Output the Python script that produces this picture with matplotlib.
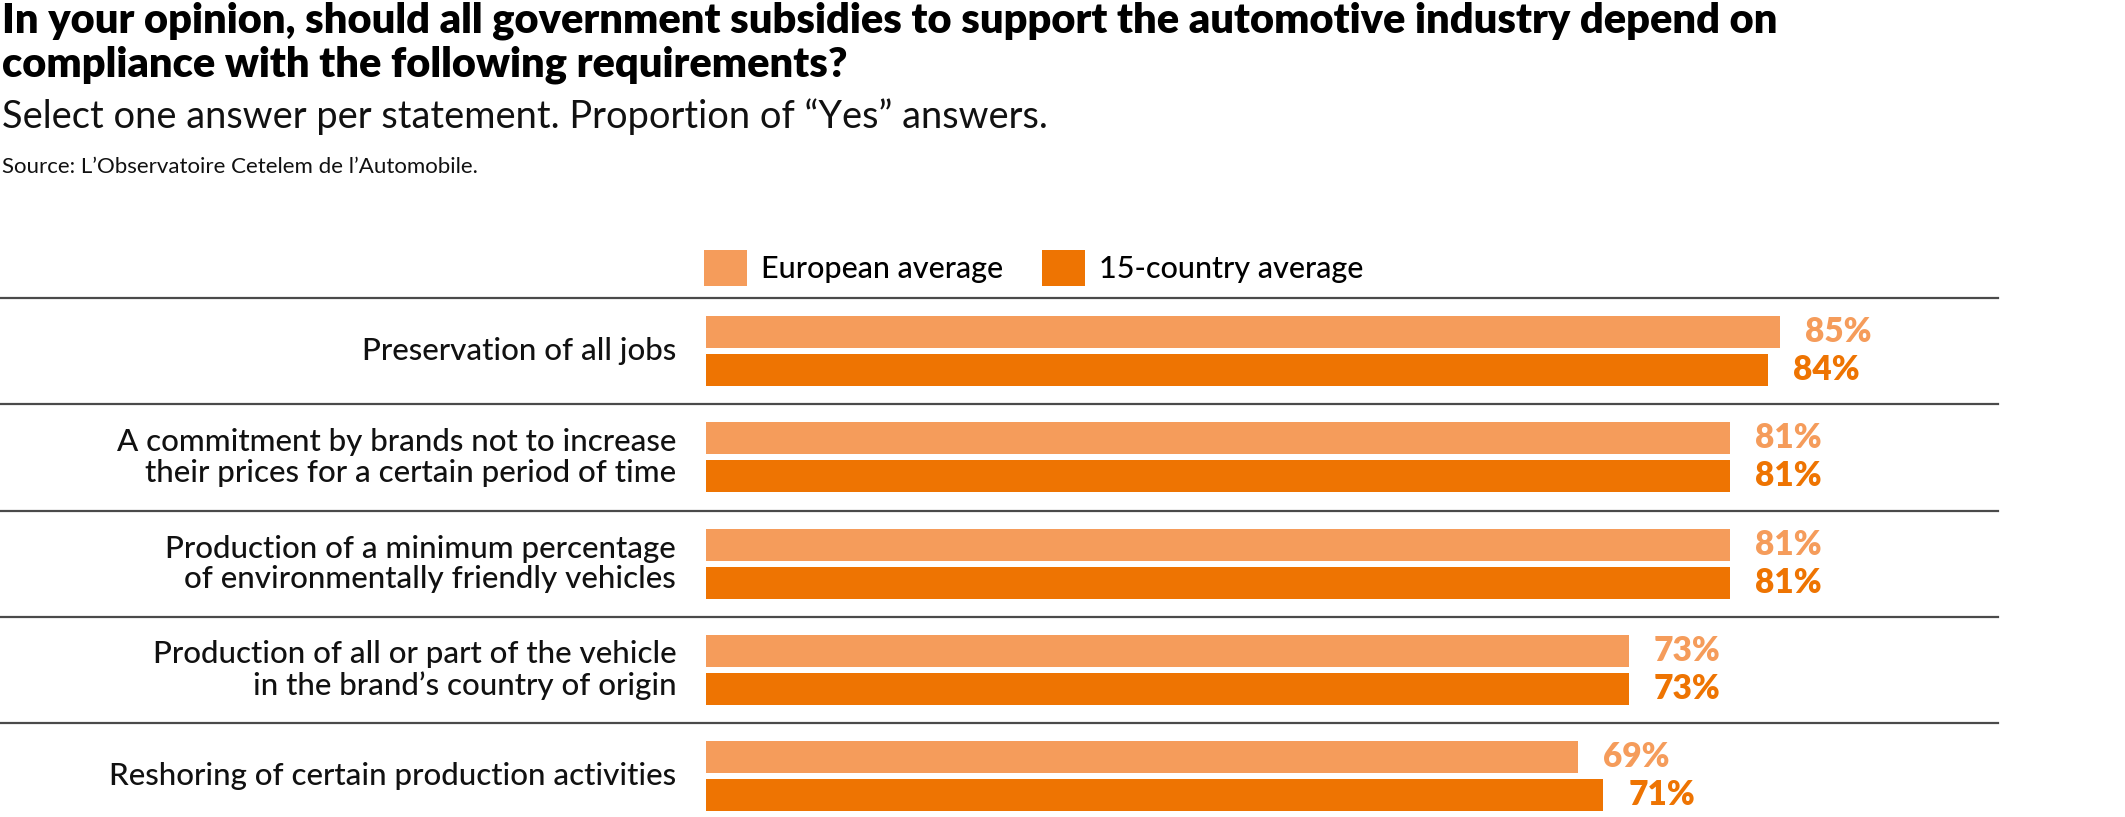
import numpy as np
import matplotlib.pyplot as plt
import matplotlib.transforms as mtransforms
from matplotlib.lines import Line2D

# Data
categories = [
    'Preservation of all jobs',
    'A commitment by brands not to increase\ntheir prices for a certain period of time',
    'Production of a minimum percentage\nof environmentally friendly vehicles',
    'Production of all or part of the vehicle\nin the brand’s country of origin',
    'Reshoring of certain production activities',
]
european_avg = [85, 81, 81, 73, 69]
country15_avg = [84, 81, 81, 73, 71]
series_names = ['European average', '15-country average']

light_orange = '#F59C5B'
dark_orange = '#EE7402'
line_color = '#4a4a4a'

plt.rcParams['font.family'] = ['Lato', 'DejaVu Sans']

W, H = 2125, 817
fig = plt.figure(figsize=(W / 100, H / 100), dpi=100)

# axes: x 0..100 % maps to 706..1970 px, y from top separator (298 px) to bottom
x0, x100 = 706, 1970
top_px = 298
ax = fig.add_axes([x0 / W, 0, (x100 - x0) / W, (H - top_px) / H])
group_px = 106.3
ymax = (H - (top_px + group_px / 2)) / group_px
ax.set_xlim(0, 100)
ax.set_ylim(ymax, -0.5)
ax.axis('off')

y = np.arange(len(categories))
bar_h = 32 / group_px
off = 19 / group_px
b1 = ax.barh(y - off, european_avg, height=bar_h, color=light_orange, label=series_names[0])
b2 = ax.barh(y + off, country15_avg, height=bar_h, color=dark_orange, label=series_names[1])

# value labels
for yy, v in zip(y - off, european_avg):
    ax.annotate(f'{v}%', xy=(v, yy), xytext=(18, 0), textcoords='offset points',
                va='center', ha='left', fontsize=24, fontweight='heavy', color=light_orange)
for yy, v in zip(y + off, country15_avg):
    ax.annotate(f'{v}%', xy=(v, yy), xytext=(18, 0), textcoords='offset points',
                va='center', ha='left', fontsize=24, fontweight='heavy', color=dark_orange)

# category labels
for yy, lab in zip(y, categories):
    ax.annotate(lab, xy=(0, yy), xytext=(-21.5, 0), textcoords='offset points',
                va='center', ha='right', multialignment='right', fontsize=22.5,
                fontweight='medium', color='#111111', linespacing=1.1)

# separators spanning from the left edge to 1998 px
trans = mtransforms.blended_transform_factory(fig.transFigure, ax.transData)
for ys in np.arange(-0.5, len(categories) - 1, 1.0):
    fig.add_artist(Line2D([0, 1998 / W], [ys, ys], transform=trans,
                          color=line_color, lw=1.6, clip_on=False))

# legend
leg = fig.legend(handles=[b1, b2], labels=series_names, ncol=2, frameon=False,
                 loc='lower left', bbox_to_anchor=(704 / W, (H - 286) / H),
                 fontsize=22, handlelength=1.4, handleheight=1.45,
                 handletextpad=0.45, columnspacing=1.3, borderpad=0, borderaxespad=0)
for t in leg.get_texts():
    t.set_fontweight('medium')

# titles
fig.text(2 / W, 1 - 33 / H, 'In your opinion, should all government subsidies to support the automotive industry depend on',
         ha='left', va='baseline', fontsize=30, fontweight='heavy', color='#000000')
fig.text(2 / W, 1 - 77 / H, 'compliance with the following requirements?',
         ha='left', va='baseline', fontsize=30, fontweight='heavy', color='#000000')
fig.text(2 / W, 1 - 128 / H, 'Select one answer per statement. Proportion of “Yes” answers.',
         ha='left', va='baseline', fontsize=27.4, fontweight='normal', color='#111111')
fig.text(2 / W, 1 - 173 / H, 'Source: L’Observatoire Cetelem de l’Automobile.',
         ha='left', va='baseline', fontsize=16, color='#111111')

fig.savefig('out.png', dpi=100)
